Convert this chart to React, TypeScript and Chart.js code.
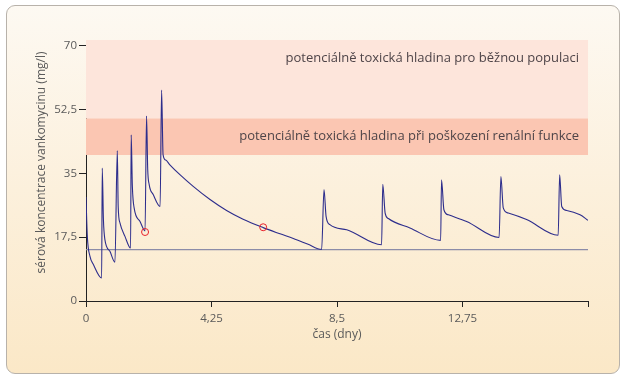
import React, { useEffect, useRef } from "react";
import { Chart, registerables } from "chart.js";

Chart.register(...registerables);

// time in days
const days = [
  0, 0.045, 0.135, 0.25, 0.53,
  0.55, 0.59, 0.64, 0.81, 0.98,
  1.06, 1.09, 1.15, 1.32, 1.51,
  1.53, 1.57, 1.63, 1.83, 2.0,
  2.05, 2.09, 2.14, 2.28, 2.51,
  2.56, 2.61, 2.7, 2.84, 3.18, 3.63, 4.2, 4.76, 5.32, 6.0, 6.57, 7.02, 7.5, 7.98,
  8.06, 8.13, 8.26, 8.83, 10.01,
  10.05, 10.13, 10.24, 10.97, 12.01,
  12.04, 12.12, 12.27, 12.89, 13.99,
  14.05, 14.13, 14.3, 14.92, 15.99,
  16.04, 16.11, 16.28, 16.73, 17.0,
];
// serum vancomycin concentration (mg/l)
const concentration = [
  28.5, 17.7, 12.2, 10.0, 6.3,
  36.4, 22.3, 16.8, 13.6, 10.6,
  41.2, 25.9, 21.4, 17.7, 14.5,
  45.5, 31.4, 25.5, 21.8, 19.2,
  50.7, 36.0, 31.9, 29.1, 25.9,
  57.8, 40.1, 38.6, 37.3, 34.6, 31.4, 27.8, 24.8, 22.4, 20.1, 18.4, 17.1, 15.6, 14.1,
  30.5, 23.2, 20.9, 19.5, 15.4,
  32.0, 24.1, 22.6, 20.0, 16.6,
  33.2, 25.0, 23.6, 21.8, 17.4,
  34.1, 25.5, 24.1, 22.3, 18.0,
  34.6, 25.9, 24.8, 23.6, 22.1,
];

const referenceLevel = 14.1;
const markerDays = [2.0, 6.0];
const markerConc = [18.9, 20.2];

const xTicks = [0, 4.25, 8.5, 12.75, 17];
const xTickLabels = ["0", "4,25", "8,5", "12,75", ""];
const yTicks = [0, 17.5, 35, 52.5, 70];
const yTickLabels = ["0", "17,5", "35", "52,5", "70"];

const xMin = 0;
const xMax = 17;
const yMin = 0;
const yMax = 71.5;

const bandLow = [40, 50];
const bandHigh = [50, 71.5];
const bandLowLabel = "potenciálně toxická hladina při poškození renální funkce";
const bandHighLabel = "potenciálně toxická hladina pro běžnou populaci";
const bandLowLabelValue = 45.2;
const bandHighLabelValue = 66.6;

const xTitle = "čas (dny)";
const yTitle = "sérová koncentrace vankomycinu (mg/l)";

const FONT = "'Open Sans', sans-serif";

const bandsPlugin = {
  id: "bands",
  beforeDatasetsDraw(chart: any) {
    const { ctx, chartArea, scales } = chart;
    const y = scales.y;
    const x = scales.x;
    const left = x.getPixelForValue(xMin);
    const right = x.getPixelForValue(xMax);
    ctx.save();
    const hiTop = y.getPixelForValue(bandHigh[1]);
    const hiBot = y.getPixelForValue(bandHigh[0]);
    ctx.fillStyle = "#fde5db";
    ctx.fillRect(left, hiTop, right - left, hiBot - hiTop);
    const loTop = y.getPixelForValue(bandLow[1]);
    const loBot = y.getPixelForValue(bandLow[0]);
    ctx.fillStyle = "#fbc6b2";
    ctx.fillRect(left, loTop, right - left, loBot - loTop);

    ctx.fillStyle = "#4e4448";
    ctx.font = `13px ${FONT}`;
    ctx.textAlign = "right";
    ctx.textBaseline = "middle";
    ctx.fillText(bandHighLabel, right - 9, y.getPixelForValue(bandHighLabelValue));
    ctx.fillText(bandLowLabel, right - 9, y.getPixelForValue(bandLowLabelValue));

    // y axis title
    const midY = (chartArea.top + chartArea.bottom) / 2 - 8;
    ctx.translate(42, midY);
    ctx.rotate(-Math.PI / 2);
    ctx.textAlign = "center";
    ctx.fillStyle = "#5a5a5a";
    ctx.font = `12px ${FONT}`;
    ctx.fillText(yTitle, 0, 0);
    ctx.restore();
  },
};

export default function App() {
  const ref = useRef<HTMLCanvasElement | null>(null);

  useEffect(() => {
    document.body.style.margin = "0";
    if (!ref.current) return;
    const curve = days.map((d, i) => ({ x: d, y: concentration[i] }));
    const refLine = [
      { x: xMin, y: referenceLevel },
      { x: xMax, y: referenceLevel },
    ];
    const markers = markerDays.map((d, i) => ({ x: d, y: markerConc[i] }));

    const chart = new Chart(ref.current, {
      type: "line",
      data: {
        datasets: [
          {
            data: markers,
            showLine: false,
            pointRadius: 3.5,
            pointBorderColor: "#e8202a",
            pointBackgroundColor: "rgba(0,0,0,0)",
            pointBorderWidth: 1,
            order: 0,
          } as any,
          {
            data: curve,
            borderColor: "#2d2d8c",
            borderWidth: 1.1,
            pointRadius: 0,
            cubicInterpolationMode: "monotone",
            order: 1,
          } as any,
          {
            data: refLine,
            borderColor: "#8c8ca8",
            borderWidth: 1.3,
            pointRadius: 0,
            order: 2,
          } as any,
        ],
      },
      plugins: [bandsPlugin],
      options: {
        animation: false,
        responsive: false,
        maintainAspectRatio: false,
        layout: { padding: { left: 0, right: 38, top: 40, bottom: 29 } },
        plugins: {
          legend: { display: false },
          tooltip: { enabled: false },
        },
        scales: {
          x: {
            type: "linear",
            min: xMin,
            max: xMax,
            afterBuildTicks: (s: any) => {
              s.ticks = xTicks.map((v) => ({ value: v }));
            },
            afterFit: (s: any) => {
              s.height = 50;
            },
            grid: {
              drawOnChartArea: false,
              drawTicks: true,
              tickLength: 6,
              tickColor: "#222",
              color: "#222",
            },
            border: { color: "#222", width: 1 },
            ticks: {
              autoSkip: false,
              maxRotation: 0,
              padding: 5,
              color: "#5a5a5a",
              font: { family: FONT, size: 11.5 },
              callback: (v: any) => {
                const i = xTicks.indexOf(Number(v));
                return i >= 0 ? xTickLabels[i] : "";
              },
            },
            title: {
              display: true,
              text: xTitle,
              color: "#5a5a5a",
              font: { family: FONT, size: 12 },
              padding: { top: 0, bottom: 9 },
            },
          },
          y: {
            type: "linear",
            min: yMin,
            max: yMax,
            afterBuildTicks: (s: any) => {
              s.ticks = yTicks.map((v) => ({ value: v }));
            },
            afterFit: (s: any) => {
              s.width = 86;
            },
            grid: {
              drawOnChartArea: false,
              drawTicks: true,
              tickLength: 7,
              tickColor: "#222",
              color: "#222",
            },
            border: { color: "#222", width: 1 },
            ticks: {
              autoSkip: false,
              padding: 2,
              color: "#5a5a5a",
              font: { family: FONT, size: 11.5 },
              callback: (v: any) => {
                const i = yTicks.indexOf(Number(v));
                return i >= 0 ? yTickLabels[i] : "";
              },
            },
          },
        },
      },
    });
    return () => chart.destroy();
  }, []);

  return (
    <div style={{ position: "relative", width: 626, height: 380, background: "#ffffff" }}>
      <div
        style={{
          position: "absolute",
          left: 6,
          top: 5,
          width: 612,
          height: 367,
          border: "1px solid #b8b2aa",
          borderRadius: 9,
          background: "linear-gradient(to bottom, #fdf9f2 0%, #fcf0dc 50%, #fbe8c7 100%)",
        }}
      />
      <canvas
        ref={ref}
        width={626}
        height={380}
        style={{ position: "absolute", left: 0, top: 0, width: 626, height: 380 }}
      />
    </div>
  );
}
